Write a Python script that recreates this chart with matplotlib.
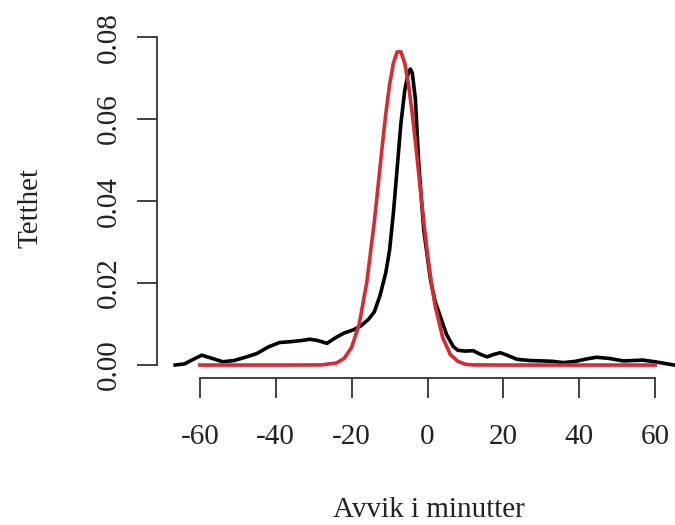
import numpy as np
import matplotlib
matplotlib.use('Agg')
import matplotlib.pyplot as plt

obs_x = [-66.5, -64, -61.5, -59.5, -57, -54, -51, -48, -45, -42, -39, -36, -33, -31,
         -29, -26.5, -24, -22, -19.5, -17.5, -15.5, -14, -12.5, -11, -10, -9, -8, -7,
         -6, -5, -4.5, -4, -3.2, -2.3, -1, 0.8, 2, 3.4, 5, 6.8, 8, 10, 12, 14, 15.7,
         17.5, 19.2, 21, 23.6, 27, 30.5, 33, 35.8, 39, 42, 44.6, 48, 51.6, 54, 56.8,
         60, 62.5, 65]
obs_d = [0.0000, 0.0003, 0.0015, 0.0024, 0.0017, 0.0008, 0.0011, 0.0019, 0.0028, 0.0044,
         0.0055, 0.0057, 0.0060, 0.0063, 0.0060, 0.0053, 0.0068, 0.0078, 0.0086, 0.0096,
         0.0112, 0.0130, 0.0170, 0.0225, 0.0280, 0.0370, 0.0480, 0.0590, 0.0670, 0.0715,
         0.0722, 0.0712, 0.0650, 0.0490, 0.0330, 0.0207, 0.0155, 0.0118, 0.0075, 0.0045,
         0.0036, 0.0034, 0.0035, 0.0026, 0.0020, 0.0026, 0.0030, 0.0024, 0.0014, 0.0011,
         0.0010, 0.0009, 0.0006, 0.0009, 0.0015, 0.0019, 0.0016, 0.0010, 0.0011, 0.0012,
         0.0008, 0.0004, 0.0000]

# Fitted density (red)
fit_x = [-60, -40, -28, -24, -22, -20, -18, -16, -14, -13, -12, -11, -10, -9, -8, -7,
         -6, -5, -4, -3, -2, -1, 0, 1, 2, 4, 6, 8, 10, 12, 20, 40, 60]
fit_d = [0.0, 0.0, 0.00003, 0.0005, 0.0016, 0.0043, 0.0100, 0.0202, 0.0351, 0.0439,
         0.0528, 0.0612, 0.0684, 0.0736, 0.0764, 0.0764, 0.0736, 0.0684, 0.0612, 0.0528,
         0.0439, 0.0351, 0.0271, 0.0202, 0.0145, 0.0067, 0.0026, 0.0009, 0.0002, 0.00003,
         0.0, 0.0, 0.0]

x_ticks = [-60, -40, -20, 0, 20, 40, 60]
y_ticks = [0.00, 0.02, 0.04, 0.06, 0.08]

plt.rcParams['font.family'] = ['Liberation Serif', 'DejaVu Serif']
fs = 21

fig = plt.figure(figsize=(6.75, 5.25), dpi=100)
ax = fig.add_axes([157 / 675, 147 / 525, 541 / 675, 340.9 / 525])

ax.plot(obs_x, obs_d, color='black', lw=2.6, solid_joinstyle='round')
ax.plot(fit_x, fit_d, color='#d62b35', lw=2.6, solid_joinstyle='round')

ax.set_xlim(-71.3, 71.3)
ax.set_ylim(-0.00316, 0.0796)

for s in ['top', 'right']:
    ax.spines[s].set_visible(False)
ax.spines['left'].set_bounds(0, 0.08)
ax.spines['bottom'].set_bounds(-60, 60)
for s in ['left', 'bottom']:
    ax.spines[s].set_linewidth(1.3)
    ax.spines[s].set_color('#333333')

ax.set_xticks(x_ticks)
ax.set_xticklabels([str(v) for v in x_ticks])
ax.set_yticks(y_ticks)
ax.set_yticklabels(['%.2f' % v for v in y_ticks], rotation=90, va='center')
ax.tick_params(axis='both', length=14.4, width=1.3, color='#333333', labelsize=fs,
               labelcolor='#222222')
ax.tick_params(axis='x', pad=19)
ax.tick_params(axis='y', pad=11)

fig.text(429 / 675, 1 - 517 / 525, 'Avvik i minutter', ha='center', va='baseline',
         fontsize=fs, color='#222222')
fig.text(31 / 675, 1 - 208 / 525, 'Tetthet', ha='center', va='center', rotation=90,
         fontsize=fs, color='#222222')

fig.savefig('out.png', dpi=100)
